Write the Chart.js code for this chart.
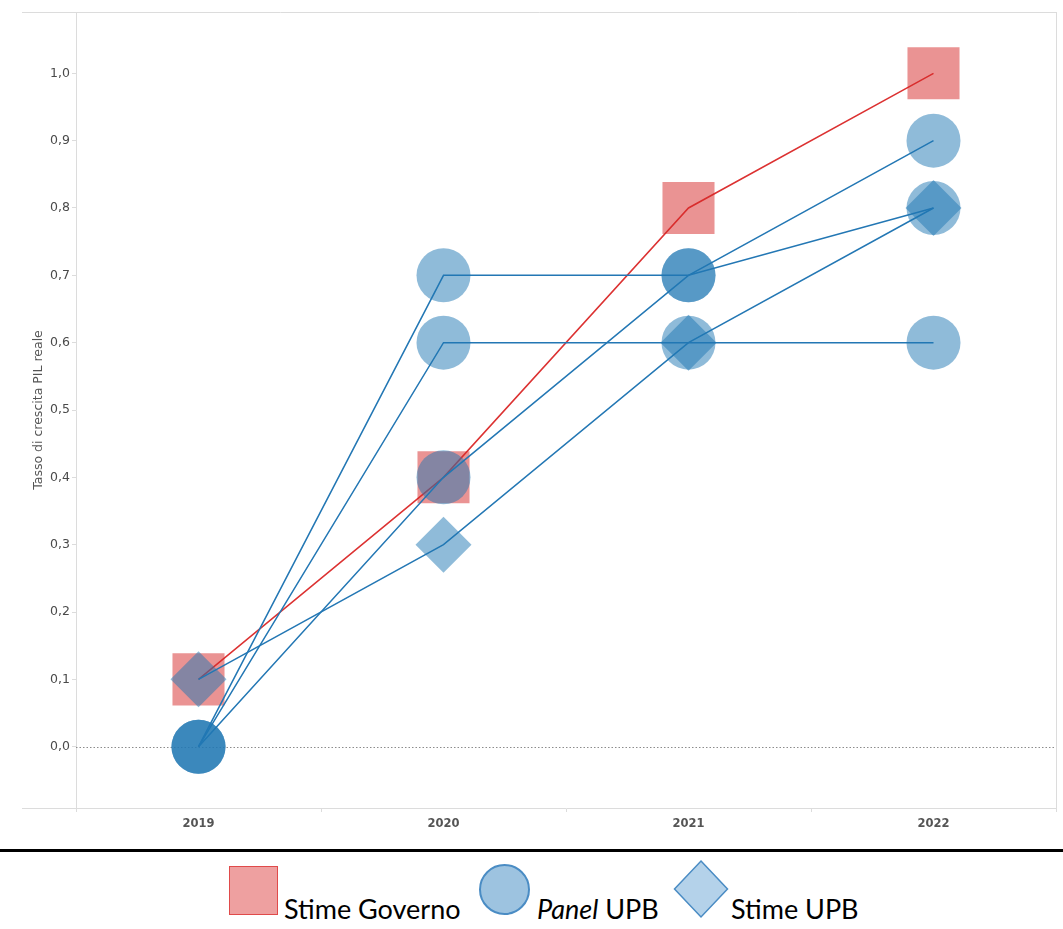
<!DOCTYPE html>
<html>
<head>
<meta charset="utf-8">
<script src="https://cdn.jsdelivr.net/npm/chart.js@4"></script>
<style>
  html, body { margin: 0; padding: 0; background: #fff; }
  body { width: 1063px; height: 929px; position: relative; overflow: hidden; }
  #wrap { position: absolute; left: 0; top: 0; width: 1063px; height: 845px; }
  #rule { position: absolute; left: 0; top: 849px; width: 1063px; height: 3px; background: #000; }
  .lg { position: absolute; font-family: Lato, "Open Sans", sans-serif; font-size: 27px; line-height: 27px; color: #000; white-space: nowrap; }
  .sq { position: absolute; left: 229px; top: 866px; width: 49px; height: 49px; box-sizing: border-box; background: #eea0a0; border: 1.5px solid #e04a4a; }
  .ci { position: absolute; left: 479px; top: 864px; width: 51px; height: 51px; box-sizing: border-box; border-radius: 50%; background: #9dc3e0; border: 2px solid #4a8cc4; }
  svg.di { position: absolute; left: 672px; top: 859px; }
</style>
</head>
<body>
<div id="wrap"><canvas id="c" width="1063" height="845"></canvas></div>
<div id="rule"></div>
<div class="sq"></div>
<div class="lg" style="left:284px; top:895px;">Stime Governo</div>
<div class="ci"></div>
<div class="lg" style="left:537px; top:895px;"><i>Panel</i> UPB</div>
<svg class="di" width="60" height="62" viewBox="0 0 60 62"><polygon points="29,2 55.5,30 29,58 2.5,30" fill="#b4d2ea" stroke="#4a8cc4" stroke-width="1.5"/></svg>
<div class="lg" style="left:731px; top:895px;">Stime UPB</div>
<script>
// ---- data ----
const categories = ['2019', '2020', '2021', '2022'];
const stimeGoverno = [0.1, 0.4, 0.8, 1.0];
const panelA = [0.0, 0.7, 0.7, 0.8];
const panelB = [0.0, 0.6, 0.6, 0.6];
const panelC = [0.0, 0.4, 0.7, 0.9];
const stimeUPB = [0.1, 0.3, 0.6, 0.8];
const yTicks = [0.0, 0.1, 0.2, 0.3, 0.4, 0.5, 0.6, 0.7, 0.8, 0.9, 1.0];
const yTitle = 'Tasso di crescita PIL reale';

const BLUE_LINE = '#2377b4';
const BLUE_FILL = 'rgba(31,119,180,0.5)';
const RED_LINE = '#dc3232';
const RED_FILL = 'rgba(214,39,40,0.5)';

function panelDs(data) {
  return {
    data, borderColor: BLUE_LINE, borderWidth: 1.5, fill: false, tension: 0,
    pointStyle: 'circle', pointRadius: 27, pointHoverRadius: 27,
    pointBackgroundColor: BLUE_FILL, pointBorderWidth: 0, pointHoverBorderWidth: 0
  };
}

const framePlugin = {
  id: 'frame',
  beforeDatasetsDraw(chart) {
    const { ctx, chartArea: a, scales } = chart;
    ctx.save();
    ctx.strokeStyle = '#dcdcdc';
    ctx.lineWidth = 1;
    ctx.beginPath();
    ctx.moveTo(22, a.top + 0.5); ctx.lineTo(a.right + 0.5, a.top + 0.5);
    ctx.moveTo(a.right + 0.5, a.top); ctx.lineTo(a.right + 0.5, a.bottom);
    ctx.moveTo(22, a.bottom + 0.5); ctx.lineTo(a.left, a.bottom + 0.5);
    ctx.stroke();
    const y0 = Math.round(scales.y.getPixelForValue(0)) + 0.5;
    ctx.strokeStyle = '#8c8c8c';
    ctx.setLineDash([1.5, 2]);
    ctx.beginPath();
    ctx.moveTo(a.left, y0); ctx.lineTo(a.right, y0);
    ctx.stroke();
    ctx.restore();
  }
};

new Chart(document.getElementById('c'), {
  type: 'line',
  data: {
    labels: categories,
    datasets: [
      panelDs(panelA),
      panelDs(panelB),
      panelDs(panelC),
      {
        data: stimeUPB, borderColor: BLUE_LINE, borderWidth: 1.5, fill: false,
        pointStyle: 'rectRot', pointRadius: 28, pointHoverRadius: 28,
        pointBackgroundColor: BLUE_FILL, pointBorderWidth: 0, pointHoverBorderWidth: 0
      },
      {
        data: stimeGoverno, borderColor: RED_LINE, borderWidth: 1.5, fill: false,
        pointStyle: 'rect', pointRadius: 36.8, pointHoverRadius: 36.8,
        pointBackgroundColor: RED_FILL, pointBorderWidth: 0, pointHoverBorderWidth: 0
      }
    ]
  },
  options: {
    responsive: false,
    animation: false,
    events: [],
    layout: { autoPadding: false, padding: { top: 12, right: 7, left: 0, bottom: 0 } },
    plugins: { legend: { display: false }, tooltip: { enabled: false } },
    scales: {
      x: {
        type: 'category',
        offset: true,
        grid: { offset: true, drawOnChartArea: false, drawTicks: true, tickLength: 4, color: '#dcdcdc' },
        border: { display: true, color: '#dcdcdc' },
        ticks: { color: '#555', font: { family: 'DejaVu Sans', size: 11.5, weight: 'bold' }, padding: 5 },
        afterFit(s) { s.height = 37; }
      },
      y: {
        min: -0.091,
        max: 1.091,
        afterBuildTicks(s) { s.ticks = yTicks.map(v => ({ value: v })); },
        grid: { drawOnChartArea: false, drawTicks: true, tickLength: 4, color: '#dcdcdc' },
        border: { display: true, color: '#dcdcdc' },
        ticks: {
          color: '#4a4a4a', padding: 2,
          font: { family: 'DejaVu Sans', size: 12.5 },
          callback: v => v.toFixed(1).replace('.', ',')
        },
        title: {
          display: true, text: yTitle, color: '#555',
          font: { family: 'DejaVu Sans', size: 12.5 },
          padding: { top: 31, bottom: 0 }
        },
        afterFit(s) { s.width = 76; }
      }
    }
  },
  plugins: [framePlugin]
});
</script>
</body>
</html>
